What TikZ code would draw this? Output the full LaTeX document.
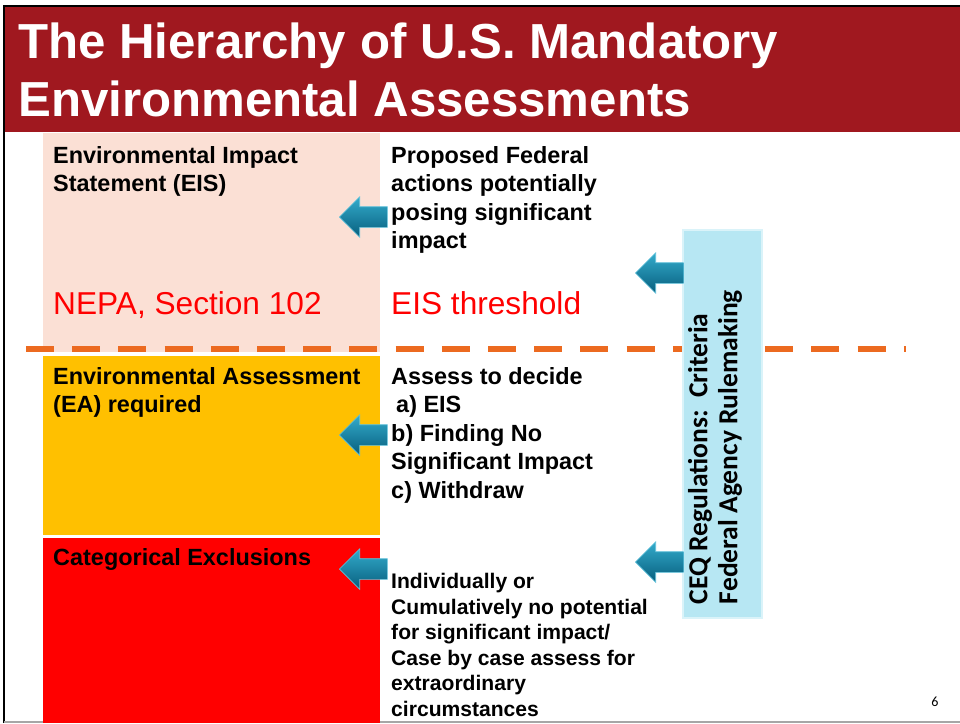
\documentclass[tikz,border=0pt]{standalone}
\usepackage{fontspec}
\setmainfont{Liberation Sans}
\newfontfamily\calibri{Carlito}
\usetikzlibrary{shapes.arrows}

\definecolor{titlered}{HTML}{A0181F}
\definecolor{eispink}{HTML}{FBE0D5}
\definecolor{eayellow}{HTML}{FFC000}
\definecolor{cxred}{HTML}{FF0000}
\definecolor{sepline}{HTML}{EC6A20}
\definecolor{ceqblue}{HTML}{B7E7F3}
\definecolor{ceqedge}{HTML}{DAF3F9}
\definecolor{arrowtop}{HTML}{34ACCD}
\definecolor{arrowbot}{HTML}{075E7C}
\definecolor{arrowedge}{HTML}{63C3DC}

\begin{document}
\begin{tikzpicture}[x=0.03cm,y=-0.03cm]
\useasboundingbox (0,0) rectangle (960,723);

\tikzset{blockarrow/.style={single arrow,shape border rotate=180,inner sep=0pt,
  text height=0.6cm,text depth=0pt,text width=0pt,
  minimum height=1.44cm,single arrow head extend=0.3cm,
  top color=arrowtop,bottom color=arrowbot,draw=arrowedge,line width=0.5pt}};
\tikzset{bodytext/.style={anchor=north west,inner sep=0pt,align=left,
  font=\fontsize{20}{24.3}\selectfont\bfseries}};
\tikzset{smalltext/.style={anchor=north west,inner sep=0pt,align=left,
  font=\fontsize{18}{21.85}\selectfont\bfseries}};
\tikzset{redtext/.style={anchor=north west,inner sep=0pt,text=cxred,
  font=\fontsize{27}{32}\selectfont}};
\tikzset{titletext/.style={anchor=north west,inner sep=0pt,align=left,
  font=\fontsize{42}{49.5}\selectfont\bfseries}};

% title band and frame
\fill[titlered] (4,6) rectangle (960,132);
\draw[black,line width=2.5pt] (4,723) -- (4,6) -- (960,6);
\draw[black!35,line width=1pt] (4,722) -- (960,722);
\node[titletext,text=white] (title) at (18,23) {The Hierarchy of U.S. Mandatory\\Environmental Assessments};

% the three levels
\fill[eispink] (43,133) rectangle (380,352);
\fill[eayellow] (43,356) rectangle (380,535);
\fill[cxred] (43,538) rectangle (380,723);

\coordinate (sepL) at (26,349);
\coordinate (sepR) at (906,349);
\draw[sepline,line width=5pt,dash pattern=on 0.84cm off 0.546cm] (sepL) -- (sepR);

% level texts
\node[bodytext] (eis) at (53,146) {Environmental Impact\\Statement (EIS)};
\node[bodytext] (eisdesc) at (391,146) {Proposed Federal\\actions potentially\\posing significant\\impact};
\node[redtext] (nepa) at (53,291) {NEPA, Section 102};
\node[redtext] (threshold) at (391,291) {EIS threshold};
\node[bodytext] (ea) at (53,367) {Environmental Assessment\\(EA) required};
\node[bodytext] (eadesc) at (391,367) {Assess to decide\\\hspace*{0.15cm}a) EIS\\b) Finding No\\Significant Impact\\c) Withdraw};
\node[bodytext] (cx) at (53,548) {Categorical Exclusions};
\node[smalltext] (cxdesc) at (391,573) {Individually or\\Cumulatively no potential\\for significant impact/\\Case by case assess for\\extraordinary\\circumstances};

% CEQ criteria box
\node[fill=ceqblue,draw=ceqedge,line width=1.5pt,minimum width=2.37cm,minimum height=11.64cm,inner sep=0pt] (ceq) at (722.5,424) {};
\node[rotate=90,align=left,inner sep=0pt,font=\calibri\fontsize{23.5}{25.5}\selectfont\bfseries] (ceqtext) at (715,447) {CEQ Regulations:\ \ Criteria\\Federal Agency Rulemaking};

% arrows
\node[blockarrow,anchor=tip] (arrEIS) at (339,217) {};
\node[blockarrow,anchor=tip] (arrEA) at (339,435) {};
\node[blockarrow,anchor=tip] (arrCX) at (339,569) {};
\node[blockarrow,anchor=tip] (arrTop) at (635,273) {};
\node[blockarrow,anchor=tip] (arrLow) at (635,562) {};

\node[font=\calibri\fontsize{12}{14}\selectfont] (pagenum) at (935,702) {6};
\end{tikzpicture}
\end{document}
